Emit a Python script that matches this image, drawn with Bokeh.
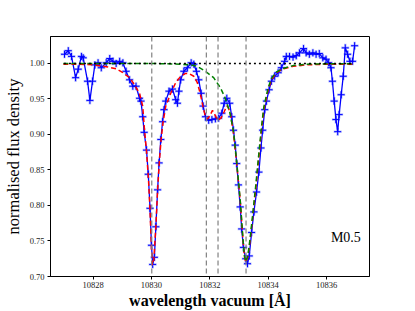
from bokeh.plotting import figure
from bokeh.models import Span, Range1d, FixedTicker, PrintfTickFormatter
from bokeh.core.properties import value
from bokeh.embed import file_html
from bokeh.resources import INLINE

# observed spectrum
obs_wl = [10827.02, 10827.15, 10827.26, 10827.40, 10827.49, 10827.60, 10827.66, 10827.81, 10827.89, 10827.98,
          10828.06, 10828.17, 10828.28, 10828.45, 10828.57, 10828.68, 10828.79, 10828.91, 10829.02, 10829.13,
          10829.25, 10829.36, 10829.47, 10829.59, 10829.64, 10829.70, 10829.75, 10829.83, 10829.89, 10829.95,
          10830.00, 10830.04, 10830.10, 10830.15, 10830.21, 10830.26, 10830.32, 10830.38, 10830.43, 10830.49,
          10830.60, 10830.72, 10830.83, 10830.89, 10830.94, 10831.00, 10831.11, 10831.23, 10831.36, 10831.45,
          10831.54, 10831.62, 10831.70, 10831.77, 10831.85, 10831.96, 10832.07, 10832.19, 10832.30, 10832.41,
          10832.49, 10832.58, 10832.68, 10832.75, 10832.81, 10832.87, 10832.92, 10832.98, 10833.04, 10833.09,
          10833.15, 10833.23, 10833.29, 10833.35, 10833.43, 10833.51, 10833.60, 10833.68, 10833.75, 10833.81,
          10833.88, 10833.94, 10834.03, 10834.11, 10834.22, 10834.34, 10834.45, 10834.56, 10834.62, 10834.73,
          10834.85, 10834.96, 10835.07, 10835.21, 10835.30, 10835.41, 10835.53, 10835.64, 10835.75, 10835.87,
          10835.98, 10836.07, 10836.15, 10836.20, 10836.26, 10836.32, 10836.38, 10836.43, 10836.50, 10836.57,
          10836.64, 10836.72, 10836.80, 10836.89, 10836.96]
obs_flux = [1.013, 1.018, 1.010, 0.980, 0.992, 1.010, 1.008, 0.975, 0.948, 0.975,
            0.998, 1.001, 0.994, 1.001, 1.007, 1.003, 1.000, 1.003, 1.001, 0.989,
            0.977, 0.968, 0.968, 0.951, 0.947, 0.925, 0.903, 0.878, 0.844, 0.796,
            0.744, 0.717, 0.727, 0.770, 0.822, 0.860, 0.893, 0.918, 0.935, 0.947,
            0.961, 0.964, 0.949, 0.944, 0.961, 0.977, 0.989, 0.994, 1.001, 0.999,
            0.989, 0.977, 0.958, 0.940, 0.925, 0.920, 0.921, 0.922, 0.923, 0.930,
            0.944, 0.951, 0.944, 0.925, 0.906, 0.885, 0.859, 0.829, 0.798, 0.767,
            0.741, 0.725, 0.718, 0.729, 0.762, 0.791, 0.819, 0.847, 0.881, 0.906,
            0.935, 0.947, 0.963, 0.975, 0.982, 0.987, 0.994, 1.003, 1.010, 1.010,
            1.009, 1.011, 1.015, 1.021, 1.015, 1.013, 1.015, 1.013, 1.014, 1.008,
            1.006, 1.001, 0.994, 0.975, 0.947, 0.921, 0.904, 0.928, 0.956, 0.982,
            1.022, 1.013, 1.003, 1.003, 1.025]

# full model (red)
full_wl = [10826.98, 10827.50, 10828.00, 10828.17, 10828.51, 10828.79, 10829.02, 10829.25, 10829.42, 10829.59,
           10829.70, 10829.75, 10829.83, 10829.90, 10829.95, 10830.00, 10830.03, 10830.08, 10830.15, 10830.21,
           10830.27, 10830.33, 10830.40, 10830.49, 10830.66, 10830.83, 10831.00, 10831.17, 10831.28, 10831.45,
           10831.57, 10831.68, 10831.76, 10831.85, 10831.93, 10832.02, 10832.09, 10832.17, 10832.27, 10832.38,
           10832.49, 10832.58, 10832.63, 10832.70, 10832.81, 10832.92, 10833.04, 10833.12, 10833.18, 10833.23,
           10833.30, 10833.38, 10833.47, 10833.58, 10833.68, 10833.77, 10833.85, 10834.00, 10834.11, 10834.28,
           10834.51, 10834.85, 10835.30, 10835.98, 10836.95]
full_flux = [0.999, 0.999, 0.998, 0.997, 0.995, 0.9925, 0.987, 0.980, 0.970, 0.958,
             0.940, 0.912, 0.876, 0.835, 0.792, 0.738, 0.716, 0.724, 0.770, 0.822,
             0.862, 0.893, 0.918, 0.940, 0.958, 0.973, 0.982, 0.986, 0.986, 0.982,
             0.973, 0.956, 0.940, 0.925, 0.922, 0.928, 0.934, 0.928, 0.920, 0.923,
             0.932, 0.940, 0.938, 0.930, 0.902, 0.859, 0.807, 0.760, 0.729, 0.720,
             0.727, 0.751, 0.784, 0.826, 0.869, 0.906, 0.935, 0.963, 0.977, 0.987,
             0.9925, 0.996, 0.998, 0.999, 0.999]

# He triplet model (green)
he_wl = [10826.98, 10828.00, 10829.00, 10830.00, 10830.50, 10831.00, 10831.34, 10831.57, 10831.85, 10832.13,
         10832.36, 10832.53, 10832.68, 10832.81, 10832.92, 10833.04, 10833.12, 10833.18, 10833.23, 10833.30,
         10833.38, 10833.47, 10833.58, 10833.68, 10833.77, 10833.85, 10834.00, 10834.11, 10834.28, 10834.51,
         10834.85, 10835.30, 10835.98, 10836.95]
he_flux = [1.000, 1.000, 1.000, 1.000, 0.9995, 0.999, 0.998, 0.996, 0.989, 0.980,
           0.966, 0.951, 0.932, 0.904, 0.861, 0.808, 0.761, 0.730, 0.721, 0.729,
           0.754, 0.788, 0.831, 0.874, 0.911, 0.939, 0.966, 0.979, 0.988, 0.993,
           0.997, 0.999, 0.9995, 0.9995]

cont_wl = [10827.0, 10836.93]
cont_flux = [1.0, 1.0]

line_positions = [10830.01, 10831.88, 10832.28, 10833.24]
x_ticks = [10828, 10830, 10832, 10834, 10836]
y_ticks = [0.70, 0.75, 0.80, 0.85, 0.90, 0.95, 1.00]
label_text = "M0.5"

SERIF = "Liberation Serif"

p = figure(width=399, height=311, output_backend="svg", toolbar_location=None,
           x_range=Range1d(10826.54, 10837.47), y_range=Range1d(0.70, 1.038),
           min_border_left=47, min_border_right=30, min_border_top=36, min_border_bottom=35)
p.grid.visible = False
p.background_fill_color = "white"
p.border_fill_color = "white"
p.outline_line_color = "black"
p.outline_line_width = 1

for ax in (p.xaxis, p.yaxis):
    ax.major_tick_out = 3
    ax.major_tick_in = 0
    ax.minor_tick_out = 0
    ax.minor_tick_in = 0
    ax.axis_line_color = "black"
    ax.major_tick_line_color = "black"
    ax.major_label_text_font = SERIF
    ax.major_label_text_font_size = "8.5px"
    ax.major_label_text_color = "#222222"
    ax.axis_label_text_font = SERIF
    ax.axis_label_text_color = "black"

p.xaxis.ticker = FixedTicker(ticks=x_ticks)
p.yaxis.ticker = FixedTicker(ticks=y_ticks)
p.yaxis.formatter = PrintfTickFormatter(format="%.2f")
p.xaxis.axis_label = "wavelength vacuum [Å]"
p.xaxis.axis_label_text_font_style = "bold"
p.xaxis.axis_label_text_font_size = "16px"
p.xaxis.axis_label_standoff = 1
p.xaxis.major_label_standoff = 2
p.yaxis.axis_label = "normalised flux density"
p.yaxis.axis_label_text_font_style = "normal"
p.yaxis.axis_label_text_font_size = "16.5px"
p.yaxis.axis_label_standoff = 4
p.yaxis.major_label_standoff = 3

for lp in line_positions:
    p.add_layout(Span(location=lp, dimension="height", line_color="gray",
                      line_dash="5 3", line_width=1.2))

# observed data
p.scatter(obs_wl, obs_flux, marker="cross", size=8, line_color="#6f7fff", line_alpha=0.5, line_width=2.5)
p.line(obs_wl, obs_flux, line_color="blue", line_width=1.3)
p.scatter(obs_wl, obs_flux, marker="cross", size=7, line_color="blue", line_width=1)

p.line(full_wl, full_flux, line_color="red", line_width=1.5, line_dash="5 3")
p.line(he_wl, he_flux, line_color="green", line_width=1.5, line_dash="5 3")
p.line(cont_wl, cont_flux, line_color="black", line_width=1.4, line_dash="2 3")

p.text(x=[10836.66], y=[0.755], text=[label_text], text_align="center", text_baseline="middle",
       text_font=value(SERIF), text_font_size="14px", text_color="black")

open("out.html", "w").write(file_html(p, INLINE))
